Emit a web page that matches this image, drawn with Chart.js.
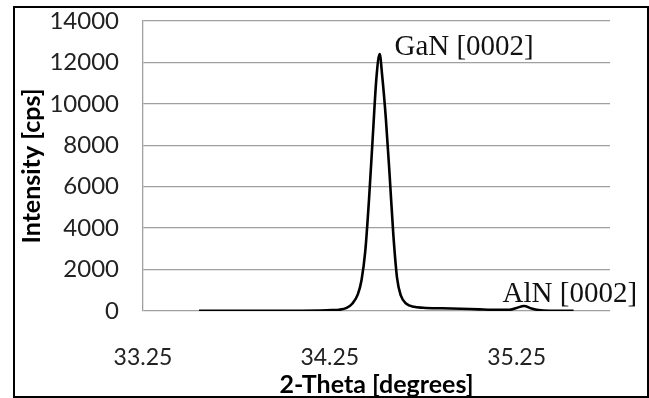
<!DOCTYPE html>
<html>
<head>
<meta charset="utf-8">
<script src="https://cdn.jsdelivr.net/npm/chart.js@4/dist/chart.umd.min.js"></script>
<style>
  html, body { margin:0; padding:0; background:#fff; }
  #wrap { position:relative; width:649px; height:398px; }
  #frame { position:absolute; left:13px; top:6px; width:632px; height:388px; border:2px solid #000; pointer-events:none; }
  canvas { position:absolute; left:0; top:0; }
</style>
</head>
<body>
<div id="wrap">
  <canvas id="xrd" width="649" height="398"></canvas>
  <div id="frame"></div>
</div>
<script>
// ── Data ──────────────────────────────────────────────────────────────────────
const twoTheta  = [33.55, 33.70, 33.90, 34.10, 34.20, 34.26, 34.30, 34.34, 34.37, 34.40, 34.42, 34.44, 34.46, 34.48, 34.50, 34.517, 34.53, 34.55, 34.57, 34.59, 34.61, 34.63, 34.66, 34.70, 34.75, 34.85, 34.95, 35.05, 35.15, 35.21, 35.25, 35.29, 35.33, 35.38, 35.45, 35.555];
const intensity = [5, 5, 10, 15, 25, 40, 60, 150, 350, 800, 1500, 2900, 5400, 8400, 11300, 12400, 11400, 9300, 6600, 3700, 1600, 750, 350, 200, 160, 130, 110, 80, 60, 60, 150, 240, 120, 30, 10, 10];
const xTicks    = [33.25, 34.25, 35.25];
const peakText  = ['GaN [0002]', 'AlN [0002]'];
const peakX     = [34.596, 35.175];
const peakY     = [12360, 435];

const SANS = 'Lato, "Open Sans", sans-serif';

// ── Peak labels ───────────────────────────────────────────────────────────────
const peakLabels = {
  id: 'peakLabels',
  afterDraw(chart) {
    const {ctx, scales:{x, y}} = chart;
    ctx.save();
    ctx.font = '29px "Liberation Serif", "Times New Roman", serif';
    ctx.fillStyle = '#111';
    ctx.textAlign = 'left';
    ctx.textBaseline = 'alphabetic';
    peakText.forEach((t, i) => ctx.fillText(t, x.getPixelForValue(peakX[i]), y.getPixelForValue(peakY[i])));
    ctx.restore();
  }
};

new Chart(document.getElementById('xrd'), {
  type: 'line',
  data: {
    datasets: [{
      data: twoTheta.map((v, i) => ({x: v, y: intensity[i]})),
      borderColor: '#000',
      borderWidth: 2.6,
      pointRadius: 0,
      cubicInterpolationMode: 'monotone',
      fill: false
    }]
  },
  options: {
    responsive: false,
    animation: false,
    layout: { padding: {left:0, top:21, right:39, bottom:0} },
    plugins: { legend:{display:false}, tooltip:{enabled:false} },
    scales: {
      x: {
        type: 'linear', min: 33.25, max: 35.75,
        afterBuildTicks: s => { s.ticks = xTicks.map(v => ({value:v})); },
        afterFit: s => { s.height = 87; s.paddingLeft = 0; s.paddingRight = 0; },
        grid: { display:false, drawTicks:false },
        border: { display:false },
        ticks: { padding:33, color:'#222', font:{family:SANS, size:23}, callback: v => v.toFixed(2), maxRotation:0 },
        title: { display:true, text:'2-Theta [degrees]', color:'#000', font:{family:SANS, size:25, weight:'bold'}, padding:{top:0, bottom:-2} }
      },
      y: {
        min: 0, max: 14000,
        afterFit: s => { s.width = 143; s.paddingTop = 0; s.paddingBottom = 0; },
        grid: { color:'#a0a0a0', lineWidth:1.3, drawTicks:false },
        border: { display:true, color:'#a0a0a0', width:1.3 },
        ticks: { stepSize:2000, padding:24, color:'#222', font:{family:SANS, size:24}, callback: v => String(v) },
        title: { display:true, text:'Intensity [cps]', color:'#000', font:{family:SANS, size:25, weight:'bold'}, padding:{top:17, bottom:0} }
      }
    }
  },
  plugins: [peakLabels]
});
</script>
</body>
</html>
